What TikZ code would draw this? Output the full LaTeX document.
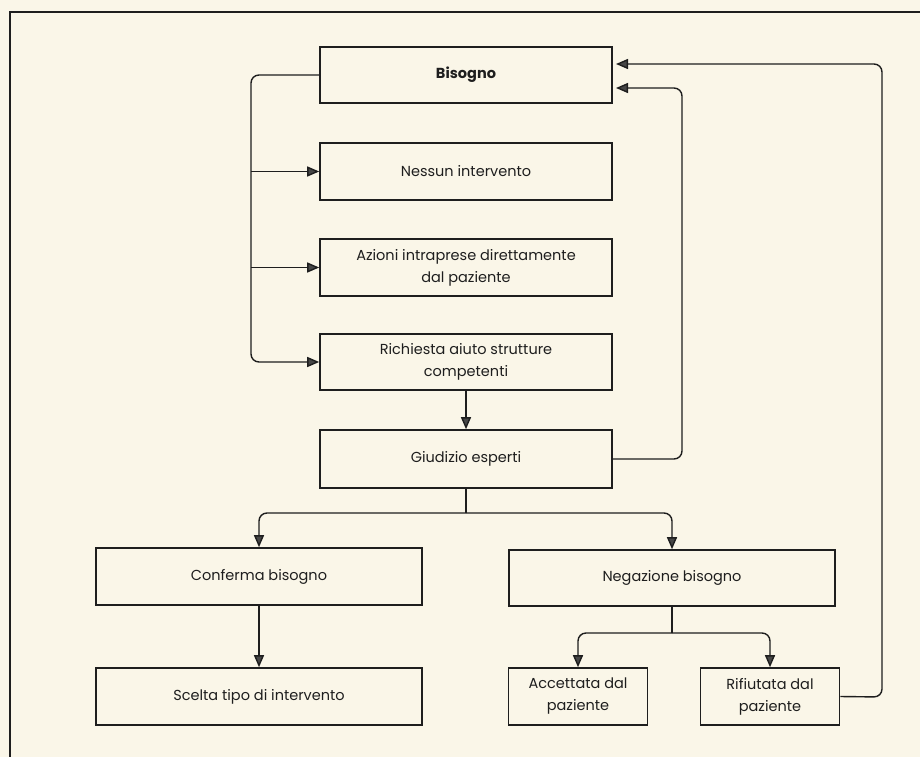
\documentclass[tikz,border=0pt]{standalone}
\usepackage{fontspec}
\setmainfont{Poppins}
\usetikzlibrary{arrows.meta}
\definecolor{paper}{RGB}{250,246,232}
\definecolor{ink}{RGB}{30,30,30}
\definecolor{tip}{RGB}{70,70,70}
\tikzset{
  box/.style={draw=ink, line width=1.6pt, fill=paper, inner sep=2pt, align=center,
    font=\fontsize{14.5}{22}\selectfont, text=ink},
  wide/.style={box, minimum width=292pt},
  half/.style={box, minimum width=326pt, minimum height=57pt},
  small/.style={box, minimum width=139pt, minimum height=57pt},
  conn/.style={draw=ink, line width=1.4pt, rounded corners=8pt},
  arr/.style={conn, -{Triangle[length=12pt,width=10pt,fill=tip]}},
}
\begin{document}
\begin{tikzpicture}[x=1pt,y=-1pt]
\fill[paper] (0,0) rectangle (920,757);
\useasboundingbox (0,0) rectangle (920,757);
\draw[ink, line width=1.8pt] (920,12) -- (10,12) -- (10,757);

\node[wide, minimum height=56pt] (bis) at (466,75) {\textbf{Bisogno}};
\node[wide, minimum height=57pt] (ness) at (466,171.5) {Nessun intervento};
\node[wide, minimum height=57pt] (azi) at (466,267.5) {Azioni intraprese direttamente\\dal paziente};
\node[wide, minimum height=56pt] (ric) at (466,362) {Richiesta aiuto strutture\\competenti};
\node[wide, minimum height=58pt] (giu) at (466,459) {Giudizio esperti};
\node[half] (conf) at (259,576.5) {Conferma bisogno};
\node[half] (scel) at (259,696.5) {Scelta tipo di intervento};
\node[half, minimum height=56pt] (neg) at (672,578) {Negazione bisogno};
\node[small] (acc) at (578,696.5) {Accettata dal\\paziente};
\node[small] (rif) at (770,696.5) {Rifiutata dal\\paziente};

\coordinate (lt) at (251,75);
\coordinate (lb) at (251,362);
\coordinate (jg) at (466,513);
\coordinate (jn) at (672,633);
\coordinate (rg1) at (682,459);
\coordinate (rg2) at (682,88);
\coordinate (bin1) at (612,88);
\coordinate (rr1) at (882,697);
\coordinate (rr2) at (882,64);
\coordinate (bin2) at (612,64);

% left feedback
\draw[arr] (bis.west) -- (lt) -- (lb) -- (ric.west);
\draw[arr] (ness.west -| lt) -- (ness.west);
\draw[arr] (azi.west -| lt) -- (azi.west);

% right feedbacks
\draw[arr, shorten >=4pt] (giu.east) -- (rg1) -- (rg2) -- (bin1);
\draw[arr, shorten >=4pt] (rif.east) -- (rr1) -- (rr2) -- (bin2);

% main flow
\draw[arr] (ric) -- (giu);
\draw[conn] (giu.south) -- (jg);
\draw[arr] (jg) -| (conf.north);
\draw[arr] (jg) -| (neg.north);
\draw[arr] (conf) -- (scel);
\draw[conn] (neg.south) -- (jn);
\draw[arr] (jn) -| (acc.north);
\draw[arr] (jn) -| (rif.north);
\end{tikzpicture}
\end{document}
